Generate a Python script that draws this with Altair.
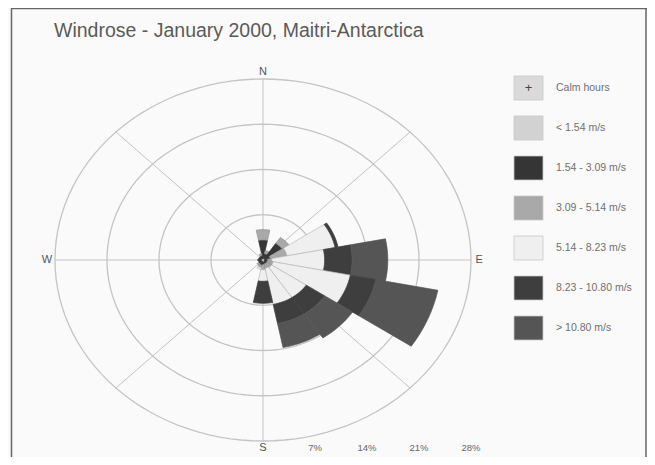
import altair as alt
import pandas as pd

TITLE = "Windrose - January 2000, Maitri-Antarctica"

# 16 wind directions (bearing of the sector centre, degrees clockwise from north)
directions = ["N", "NNE", "NE", "ENE", "E", "ESE", "SE", "SSE",
              "S", "SSW", "SW", "WSW", "W", "WNW", "NW", "NNW"]
bearings = [0, 22.5, 45, 67.5, 90, 112.5, 135, 157.5,
            180, 202.5, 225, 247.5, 270, 292.5, 315, 337.5]

calm_label = "Calm hours"
speed_bins = ["< 1.54 m/s", "1.54 - 3.09 m/s", "3.09 - 5.14 m/s",
              "5.14 - 8.23 m/s", "8.23 - 10.80 m/s", "> 10.80 m/s"]

# frequency (% of hours) per direction, one list per speed class
pct_lt_154 = [0.3, 0.2, 0.2, 0.2, 0.2, 0.2, 0.2, 0.2, 0.3, 0.2, 0.2, 0.2, 0.2, 0.2, 0.2, 0.2]
pct_154_309 = [2.8, 0.8, 2.9, 0.8, 0.4, 0.4, 0.4, 0.4, 0.4, 0.6, 0.5, 0.4, 0.5, 0.4, 0.4, 0.5]
pct_309_514 = [1.6, 0.5, 1.1, 2.3, 0.6, 0.8, 0.8, 0.7, 0.8, 0.4, 0.3, 0.0, 0.0, 0.0, 0.0, 0.3]
pct_514_823 = [0.0, 0.0, 0.0, 6.6, 7.1, 10.6, 5.6, 5.7, 1.8, 0.3, 0.0, 0.0, 0.0, 0.0, 0.0, 0.0]
pct_823_1080 = [0.0, 0.0, 0.0, 0.4, 3.7, 3.5, 3.0, 3.0, 3.4, 0.0, 0.0, 0.0, 0.0, 0.0, 0.0, 0.0]
pct_gt_1080 = [0.0, 0.0, 0.0, 0.0, 4.8, 8.5, 4.5, 3.8, 0.0, 0.0, 0.0, 0.0, 0.0, 0.0, 0.0, 0.0]
series = [pct_lt_154, pct_154_309, pct_309_514, pct_514_823, pct_823_1080, pct_gt_1080]

ring_pcts = [7, 14, 21, 28]
ring_labels = ["7%", "14%", "21%", "28%"]
compass = ["N", "E", "S", "W"]
compass_bearing = [0, 90, 180, 270]
spoke_angles = [0, 45, 90, 135]

# styles
bin_fill = ["#d2d2d2", "#353535", "#a9a9a9", "#efefef", "#3e3e3e", "#555555"]
bin_stroke = ["#b4b4b4", "#353535", "#909090", "#b9b9b9", "#3e3e3e", "#555555"]
calm_fill = "#dadada"
FONT = "Liberation Sans"
GRID = "#c4c4c4"

# ---------------------------------------------------------------- tables
rows = []
for i, (d, b) in enumerate(zip(directions, bearings)):
    for j, (name, s) in enumerate(zip(speed_bins, series)):
        rows.append({"dir": d, "bearing": b, "bin": name, "order": j, "value": s[i]})
wedge_df = pd.DataFrame(rows)
ring_df = pd.DataFrame({"r": ring_pcts, "lab": ring_labels})
spoke_df = pd.DataFrame({"a": spoke_angles})
compass_df = pd.DataFrame({"lab": compass, "a": compass_bearing})
legend_labels = [calm_label] + speed_bins
legend_df = pd.DataFrame({"label": legend_labels,
                          "sym": ["+"] + [""] * len(speed_bins)})
title_df = pd.DataFrame({"title": [TITLE]})
RMAX = max(ring_pcts)
LABEL_R = RMAX + 1.1
HALF = 360 / len(directions) / 2
N = 8  # points per arc edge

xs = alt.Scale(domain=[-RMAX, RMAX], range=[44, 460], nice=False, zero=False)
ys = alt.Scale(domain=[-RMAX, RMAX], range=[433, 71], nice=False, zero=False)

rings = alt.Chart(ring_df).transform_calculate(
    k="sequence(0, 121)"
).transform_flatten(["k"]).transform_calculate(
    ang="datum.k * 3 * PI / 180"
).transform_calculate(
    px="datum.r * sin(datum.ang)", py="datum.r * cos(datum.ang)"
).mark_line(stroke=GRID, strokeWidth=1.3).encode(
    x=alt.X("px:Q", scale=xs, axis=None),
    y=alt.Y("py:Q", scale=ys, axis=None),
    order="k:Q",
    detail="r:N",
)

spokes = alt.Chart(spoke_df).transform_calculate(
    px=f"{RMAX} * sin(datum.a * PI / 180)",
    py=f"{RMAX} * cos(datum.a * PI / 180)",
).transform_calculate(
    px2="-datum.px", py2="-datum.py"
).mark_rule(color=GRID, strokeWidth=1).encode(
    x=alt.X("px:Q", scale=xs, axis=None),
    y=alt.Y("py:Q", scale=ys, axis=None),
    x2="px2:Q",
    y2="py2:Q",
)

wedges = alt.Chart(wedge_df).transform_filter(
    "datum.value > 0"
).transform_stack(
    stack="value", groupby=["dir"], as_=["r0", "r1"],
    sort=[alt.SortField("order", order="ascending")],
).transform_calculate(
    pid="datum.dir + '-' + datum.order",
    k=f"sequence(0, {2 * N + 3})",
).transform_flatten(["k"]).transform_calculate(
    t=f"datum.k <= {N} ? datum.k / {N} : (datum.k <= {2 * N + 1} ? ({2 * N + 1} - datum.k) / {N} : 0)",
    rr=f"(datum.k <= {N} || datum.k == {2 * N + 2}) ? datum.r0 : datum.r1",
).transform_calculate(
    ang=f"(datum.bearing - {HALF} + {2 * HALF} * datum.t) * PI / 180"
).transform_calculate(
    px="datum.rr * sin(datum.ang)", py="datum.rr * cos(datum.ang)"
).mark_line(strokeWidth=0.7, strokeJoin="round").encode(
    x=alt.X("px:Q", scale=xs, axis=None),
    y=alt.Y("py:Q", scale=ys, axis=None),
    order="k:Q",
    detail="pid:N",
    fill=alt.Fill("bin:N", scale=alt.Scale(domain=speed_bins, range=bin_fill), legend=None),
    stroke=alt.Stroke("bin:N", scale=alt.Scale(domain=speed_bins, range=bin_stroke), legend=None),
)

compass_text = alt.Chart(compass_df).transform_calculate(
    px=f"{LABEL_R} * sin(datum.a * PI / 180)",
    py=f"{LABEL_R} * cos(datum.a * PI / 180)",
).mark_text(font=FONT, fontSize=11, color="#555", baseline="middle", align="center").encode(
    x=alt.X("px:Q", scale=xs, axis=None),
    y=alt.Y("py:Q", scale=ys, axis=None),
    text="lab:N",
)

pct_text = alt.Chart(ring_df).transform_calculate(
    py=f"-{LABEL_R}"
).mark_text(font=FONT, fontSize=9.5, color="#666", baseline="middle", align="center").encode(
    x=alt.X("r:Q", scale=xs, axis=None),
    y=alt.Y("py:Q", scale=ys, axis=None),
    text="lab:N",
)

windrose = alt.layer(rings, spokes, wedges, compass_text, pct_text)

ly = alt.Y("label:N", scale=alt.Scale(domain=legend_labels, range=[60, 340],
                                      paddingInner=0.4, paddingOuter=0.2), axis=None)
leg_box = alt.Chart(legend_df).mark_rect(stroke="#c8c8c8", strokeWidth=0.8).encode(
    y=ly,
    x=alt.value(503),
    x2=alt.value(532),
    fill=alt.Fill("label:N", scale=alt.Scale(domain=legend_labels,
                                             range=[calm_fill] + bin_fill), legend=None),
)
leg_text = alt.Chart(legend_df).mark_text(font=FONT, fontSize=10.5, color="#707070",
                                          align="left", baseline="middle").encode(
    y=ly, x=alt.value(545), text="label:N"
)
leg_plus = alt.Chart(legend_df).mark_text(font=FONT, fontSize=13, color="#444",
                                          align="center", baseline="middle").encode(
    y=ly, x=alt.value(517.5), text="sym:N"
)
legend = alt.layer(leg_box, leg_text, leg_plus)

title_text = alt.Chart(title_df).mark_text(
    font=FONT, fontSize=19.5, color="#5a5a5a", align="left", baseline="middle"
).encode(x=alt.value(43), y=alt.value(23), text="title:N")

frame_df = pd.DataFrame({"f": [0]})
frame_left = alt.Chart(frame_df).mark_rule(color="#666", strokeWidth=1.5).encode(
    x=alt.value(0.5), y=alt.value(0), y2=alt.value(449))
frame_top = alt.Chart(frame_df).mark_rule(color="#666", strokeWidth=1.5).encode(
    x=alt.value(0), x2=alt.value(636), y=alt.value(0.5))
frame_right = alt.Chart(frame_df).mark_rule(color="#666", strokeWidth=1.5).encode(
    x=alt.value(635), y=alt.value(0), y2=alt.value(449))

chart = alt.layer(frame_left, frame_top, frame_right, title_text, windrose, legend).resolve_scale(
    x="independent", y="independent", fill="independent", stroke="independent"
).properties(
    width=636,
    height=449,
    padding={"left": 3, "top": 0, "right": 0, "bottom": 0},
    autosize=alt.AutoSizeParams(type="none"),
    background="#fafafa",
).configure_view(stroke=None)

chart.save("out.html", embed_options={"renderer": "svg", "actions": False})
